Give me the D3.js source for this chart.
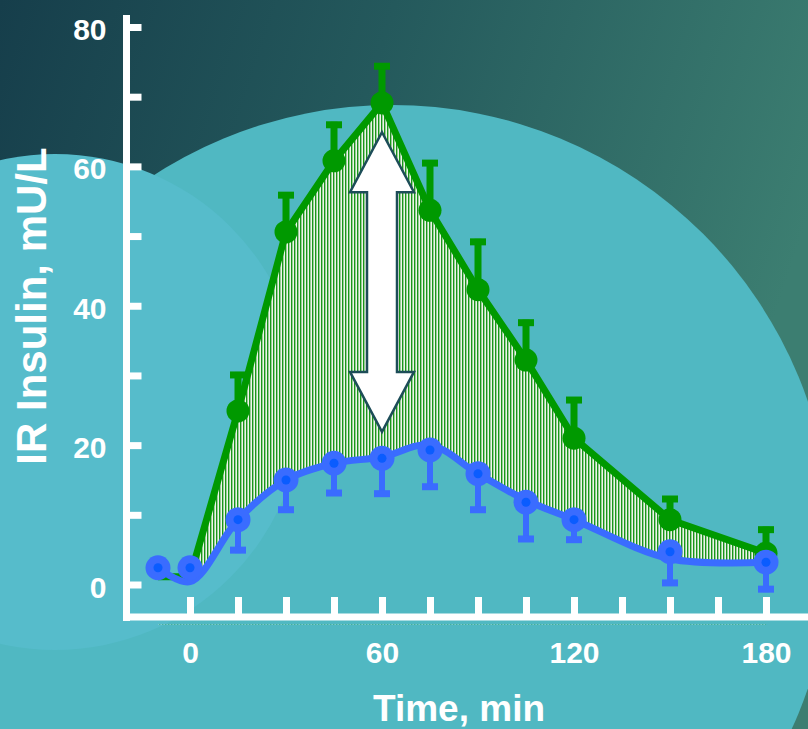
<!DOCTYPE html>
<html>
<head>
<meta charset="utf-8">
<script src="https://cdn.jsdelivr.net/npm/d3@7"></script>
<style>
  html, body { margin: 0; padding: 0; background: #1a4652; }
  svg { display: block; }
  text { font-family: "Liberation Sans", Arial, sans-serif; font-weight: bold; fill: #ffffff; }
</style>
</head>
<body>
<svg id="chart" width="808" height="729"></svg>
<script>
// Sampling times (min)
const times = [-10, 0, 15, 30, 45, 60, 75, 90, 105, 120, 150, 180];

// Upper series (green): mean insulin and upward error
const greenMean = [1.1, 1.1, 24.9, 50.6, 60.8, 69.1, 53.7, 42.3, 32.2, 21.0, 9.3, 4.5];
const greenErr  = [0, 0, 5.6, 5.7, 5.6, 5.7, 7.2, 7.3, 5.8, 5.9, 3.4, 3.8];

// Lower series (blue): mean insulin and downward error
const blueMean = [2.4, 2.4, 9.3, 15.0, 17.4, 18.1, 19.3, 15.9, 11.8, 9.3, 4.7, 3.2];
const blueErr  = [0, 0, 4.8, 4.7, 4.7, 5.5, 5.7, 5.6, 5.7, 3.3, 4.9, 4.3];

// Smoothed trace drawn through the lower series
const blueTrace = [2.4, 0.4, 9.3, 15.0, 17.4, 18.3, 20.0, 15.9, 12.1, 9.3, 3.7, 3.2];

// Axis ticks and labels
const xTicks = [0, 15, 30, 45, 60, 75, 90, 105, 120, 135, 150, 165, 180];
const xLabels = [0, 60, 120, 180];
const yTicks = [0, 10, 20, 30, 40, 50, 60, 70, 80];
const yLabels = [0, 20, 40, 60, 80];

// Double arrow marking the difference at the peak
const arrowAt = [60];
const arrowSpan = [21.9, 64.9];

const W = 808, H = 729;
const svg = d3.select("#chart");

const x = d3.scaleLinear().domain([0, 180]).range([190, 766]);
const y = d3.scaleLinear().domain([0, 80]).range([584.5, 27]);

const axisX = 126.5;   // vertical axis line position
const axisY = 617;     // horizontal axis line position

const defs = svg.append("defs");

// background gradient
const bg = defs.append("linearGradient").attr("id", "bg")
  .attr("x1", "0").attr("y1", "0").attr("x2", "1").attr("y2", "0.3");
bg.append("stop").attr("offset", "0").attr("stop-color", "#163e4b");
bg.append("stop").attr("offset", "0.45").attr("stop-color", "#24595c");
bg.append("stop").attr("offset", "1").attr("stop-color", "#3c7e71");

// vertical hatch
const hatch = defs.append("pattern").attr("id", "hatch")
  .attr("patternUnits", "userSpaceOnUse").attr("width", 3).attr("height", 10);
hatch.append("rect").attr("width", 3).attr("height", 10).attr("fill", "#eef4ea");
hatch.append("rect").attr("width", 1.4).attr("height", 10).attr("fill", "#1a961a");

// background
svg.append("rect").attr("width", W).attr("height", H).attr("fill", "url(#bg)");
svg.append("circle").attr("cx", 392).attr("cy", 545).attr("r", 440).attr("fill", "#50b8c2");
svg.append("circle").attr("cx", 55).attr("cy", 402).attr("r", 248).attr("fill", "#56bccb");

const gData = times.map((t, i) => ({ t, v: greenMean[i], e: greenErr[i] }));
const bData = times.map((t, i) => ({ t, v: blueMean[i], e: blueErr[i] }));
const bTrace = times.map((t, i) => ({ t, v: blueTrace[i] }));

// hatched region between the two traces
const floor = y(0) + 40;
const greenArea = d3.area().x(d => x(d.t)).y0(floor).y1(d => y(d.v)).curve(d3.curveLinear);
const blueArea = d3.area().x(d => x(d.t)).y0(floor).y1(d => y(d.v)).curve(d3.curveCatmullRom);
const mask = defs.append("mask").attr("id", "between").attr("maskUnits", "userSpaceOnUse")
  .attr("x", 0).attr("y", 0).attr("width", W).attr("height", H);
mask.append("path").attr("d", greenArea(gData)).attr("fill", "#fff");
mask.append("path").attr("d", blueArea(bTrace)).attr("fill", "#000");
svg.append("rect").attr("x", 0).attr("y", 0).attr("width", W).attr("height", H)
  .attr("fill", "url(#hatch)").attr("mask", "url(#between)");

// axes
const xAxis = d3.axisBottom(x).tickValues(xTicks).tickSize(-20).tickSizeOuter(0)
  .tickPadding(25).tickFormat(d => xLabels.includes(d) ? d : "");
const gx = svg.append("g").attr("transform", `translate(0,${axisY})`).call(xAxis);
gx.select(".domain").remove();
gx.selectAll(".tick line").attr("stroke", "#fff").attr("stroke-width", 7);
gx.selectAll(".tick text").attr("font-size", 30).attr("fill", "#fff")
  .attr("font-family", "Liberation Sans, Arial, sans-serif").attr("font-weight", "bold");

const yAxis = d3.axisLeft(y).tickValues(yTicks).tickSize(-15).tickSizeOuter(0)
  .tickPadding(20).tickFormat(d => yLabels.includes(d) ? d : "");
const gy = svg.append("g").attr("transform", `translate(${axisX},0)`).call(yAxis);
gy.select(".domain").remove();
gy.selectAll(".tick line").attr("stroke", "#fff").attr("stroke-width", 7);
gy.selectAll(".tick text").attr("font-size", 30).attr("fill", "#fff").attr("dy", "0.42em")
  .attr("font-family", "Liberation Sans, Arial, sans-serif").attr("font-weight", "bold");

svg.append("line").attr("x1", axisX).attr("x2", axisX).attr("y1", 15).attr("y2", axisY + 4)
  .attr("stroke", "#fff").attr("stroke-width", 7);
svg.append("line").attr("x1", axisX - 3.5).attr("x2", W).attr("y1", axisY).attr("y2", axisY)
  .attr("stroke", "#fff").attr("stroke-width", 7);

// axis titles
svg.append("text").attr("x", 459).attr("y", 721).attr("text-anchor", "middle")
  .attr("font-size", 37).text("Time, min");
svg.append("text").attr("transform", "translate(46,306) rotate(-90)")
  .attr("text-anchor", "middle").attr("font-size", 42).text("IR Insulin, mU/L");

// double arrow
{
  const xc = x(arrowAt[0]);
  const yTop = y(arrowSpan[1]), yBot = y(arrowSpan[0]);
  const head = 60, hw = 32, sw = 15;
  const pts = [
    [xc, yTop], [xc + hw, yTop + head], [xc + sw, yTop + head],
    [xc + sw, yBot - head], [xc + hw, yBot - head], [xc, yBot],
    [xc - hw, yBot - head], [xc - sw, yBot - head], [xc - sw, yTop + head],
    [xc - hw, yTop + head]
  ];
  svg.append("path").attr("d", d3.line()(pts) + "Z")
    .attr("fill", "#ffffff").attr("stroke", "#1d4d58").attr("stroke-width", 2.5)
    .attr("stroke-linejoin", "miter");
}

const green = "#009900";
const blue = "#3a6cff";

// green series
svg.append("path").attr("d", d3.line().x(d => x(d.t)).y(d => y(d.v))(gData))
  .attr("fill", "none").attr("stroke", green).attr("stroke-width", 7).attr("stroke-linejoin", "round");
const gErr = svg.append("g").selectAll("g").data(gData.filter(d => d.e > 0)).join("g");
gErr.append("line").attr("x1", d => x(d.t)).attr("x2", d => x(d.t))
  .attr("y1", d => y(d.v)).attr("y2", d => y(d.v + d.e))
  .attr("stroke", green).attr("stroke-width", 7);
gErr.append("line").attr("x1", d => x(d.t) - 8).attr("x2", d => x(d.t) + 8)
  .attr("y1", d => y(d.v + d.e) + 3).attr("y2", d => y(d.v + d.e) + 3)
  .attr("stroke", green).attr("stroke-width", 7);
svg.append("g").selectAll("circle").data(gData.filter(d => d.t >= 15)).join("circle")
  .attr("cx", d => x(d.t)).attr("cy", d => y(d.v)).attr("r", 11.5).attr("fill", green);

// blue series
svg.append("path").attr("d", d3.line().x(d => x(d.t)).y(d => y(d.v)).curve(d3.curveCatmullRom)(bTrace))
  .attr("fill", "none").attr("stroke", blue).attr("stroke-width", 7).attr("stroke-linecap", "round");
const bErr = svg.append("g").selectAll("g").data(bData.filter(d => d.e > 0)).join("g");
bErr.append("line").attr("x1", d => x(d.t)).attr("x2", d => x(d.t))
  .attr("y1", d => y(d.v)).attr("y2", d => y(d.v - d.e))
  .attr("stroke", blue).attr("stroke-width", 6);
bErr.append("line").attr("x1", d => x(d.t) - 8).attr("x2", d => x(d.t) + 8)
  .attr("y1", d => y(d.v - d.e) - 3).attr("y2", d => y(d.v - d.e) - 3)
  .attr("stroke", blue).attr("stroke-width", 7);
const bPts = svg.append("g").selectAll("g").data(bData).join("g");
bPts.append("circle").attr("cx", d => x(d.t)).attr("cy", d => y(d.v)).attr("r", 12.5).attr("fill", blue);
bPts.append("circle").attr("cx", d => x(d.t)).attr("cy", d => y(d.v)).attr("r", 4.5).attr("fill", "#0a5cff");
</script>
</body>
</html>
